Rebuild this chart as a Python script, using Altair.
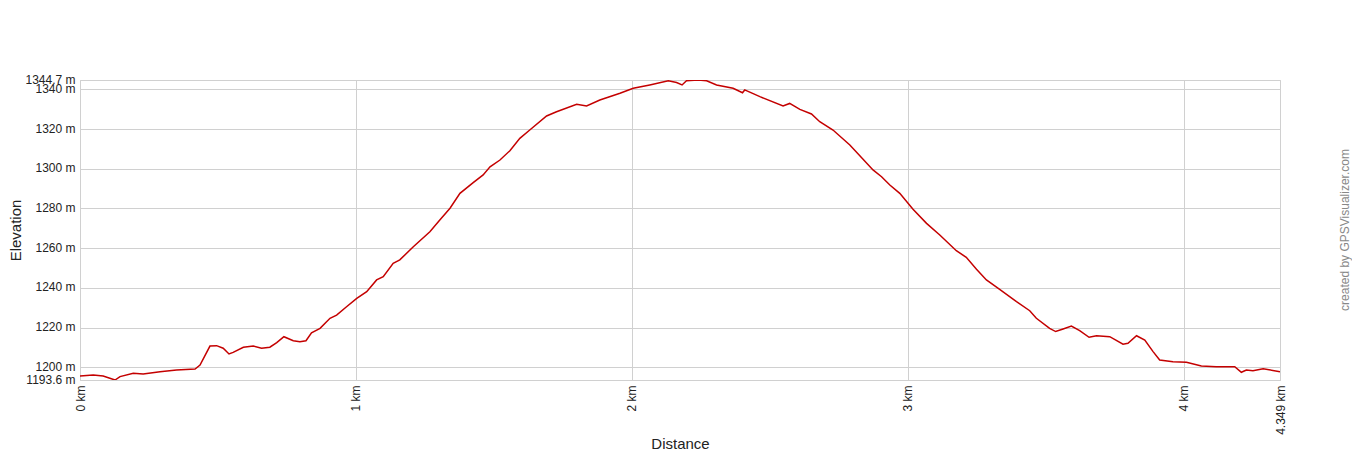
import altair as alt
import pandas as pd

dist_km = [0.000, 0.048, 0.084, 0.127, 0.145, 0.193, 0.229, 0.290, 0.350, 0.417,
           0.435, 0.471, 0.495, 0.519, 0.540, 0.555, 0.592, 0.628, 0.658, 0.688,
           0.713, 0.739, 0.773, 0.797, 0.819, 0.839, 0.870, 0.906, 0.930, 0.966,
           1.003, 1.039, 1.075, 1.099, 1.135, 1.159, 1.208, 1.268, 1.304, 1.341,
           1.377, 1.425, 1.461, 1.486, 1.522, 1.558, 1.594, 1.630, 1.691, 1.727,
           1.800, 1.836, 1.884, 1.957, 2.005, 2.065, 2.132, 2.162, 2.182, 2.198,
           2.240, 2.271, 2.307, 2.367, 2.401, 2.409, 2.464, 2.548, 2.572, 2.609,
           2.651, 2.681, 2.729, 2.790, 2.838, 2.874, 2.905, 2.935, 2.971, 3.019,
           3.068, 3.116, 3.176, 3.212, 3.249, 3.285, 3.333, 3.394, 3.442, 3.466,
           3.514, 3.536, 3.563, 3.593, 3.623, 3.657, 3.684, 3.732, 3.780, 3.798,
           3.829, 3.859, 3.889, 3.913, 3.961, 4.010, 4.064, 4.118, 4.185, 4.209,
           4.227, 4.251, 4.288, 4.349]
elev_m = [1195.6, 1196.1, 1195.6, 1193.6, 1195.3, 1197.0, 1196.6, 1197.8, 1198.6, 1199.1,
          1201.1, 1210.7, 1210.9, 1209.6, 1206.7, 1207.5, 1210.1, 1210.7, 1209.6, 1210.1,
          1212.4, 1215.4, 1213.4, 1212.9, 1213.4, 1217.4, 1219.6, 1224.7, 1226.3, 1230.5,
          1234.7, 1238.1, 1244.0, 1245.6, 1252.4, 1254.1, 1260.7, 1268.3, 1274.2, 1280.1,
          1287.6, 1293.0, 1296.9, 1301.0, 1304.4, 1309.1, 1315.3, 1319.5, 1326.6, 1328.7,
          1332.5, 1331.6, 1334.6, 1338.0, 1340.5, 1342.2, 1344.3, 1343.4, 1342.2, 1344.3,
          1344.7, 1344.3, 1342.2, 1340.5, 1338.3, 1339.7, 1336.3, 1331.6, 1332.9, 1329.9,
          1327.6, 1323.7, 1319.5, 1312.0, 1304.8, 1299.4, 1296.0, 1291.8, 1287.6, 1279.6,
          1272.5, 1266.6, 1258.7, 1255.4, 1249.4, 1244.0, 1239.3, 1233.1, 1228.5, 1224.7,
          1219.6, 1218.0, 1219.3, 1220.8, 1218.5, 1215.1, 1215.9, 1215.4, 1211.6, 1212.1,
          1215.9, 1213.7, 1207.9, 1203.7, 1202.8, 1202.5, 1200.6, 1200.3, 1200.3, 1197.5,
          1198.6, 1198.3, 1199.3, 1197.8]

x_ticks = [0, 1, 2, 3, 4, 4.349]
y_ticks = [1193.6, 1200, 1220, 1240, 1260, 1280, 1300, 1320, 1340, 1344.7]
watermark = "created by GPSVisualizer.com"

df = pd.DataFrame({"d": dist_km, "e": elev_m})

line = alt.Chart(df).mark_line(color="#c40000", strokeWidth=1.5, clip=True).encode(
    x=alt.X("d:Q",
            scale=alt.Scale(domain=[0, 4.349], nice=False, zero=False),
            axis=alt.Axis(values=x_ticks, labelExpr="datum.value + ' km'",
                          title="Distance", labelAngle=270, labelAlign="right",
                          labelBaseline="middle", labelFlush=False, labelOverlap=False,
                          ticks=False, domain=False, labelPadding=5,
                          titleX=600, titleY=68, titleBaseline="alphabetic",
                          titleFontSize=15, titleFontWeight="normal",
                          grid=True)),
    y=alt.Y("e:Q",
            scale=alt.Scale(domain=[1193.6, 1344.7], nice=False, zero=False),
            axis=alt.Axis(values=y_ticks, labelExpr="datum.value + ' m'",
                          title="Elevation", labelFlush=False, labelOverlap=False,
                          ticks=False, domain=False, labelPadding=5, labelOffset=-1,
                          titleX=-57, titleY=150, titleFontSize=15,
                          titleFontWeight="normal", grid=True)),
)

wm = alt.Chart(pd.DataFrame({"t": [watermark]})).mark_text(
    angle=270, fontSize=12, color="#888888", font="Liberation Sans",
    align="center", baseline="middle"
).encode(x=alt.value(1265), y=alt.value(150), text="t:N")

chart = alt.layer(line, wm).properties(
    width=1200, height=300,
    autosize=alt.AutoSizeParams(type="none"),
    padding={"left": 72, "top": 72, "right": 72, "bottom": 72},
    background="white",
).configure_view(stroke="#cccccc", strokeWidth=1).configure_axis(
    labelFont="Liberation Sans", titleFont="Liberation Sans",
    labelFontSize=12, labelColor="#222222", titleColor="#222222",
    gridColor="#d0d0d0", gridWidth=1, gridOpacity=1,
)

chart.save("out.html", embed_options={"renderer": "svg", "actions": False})
